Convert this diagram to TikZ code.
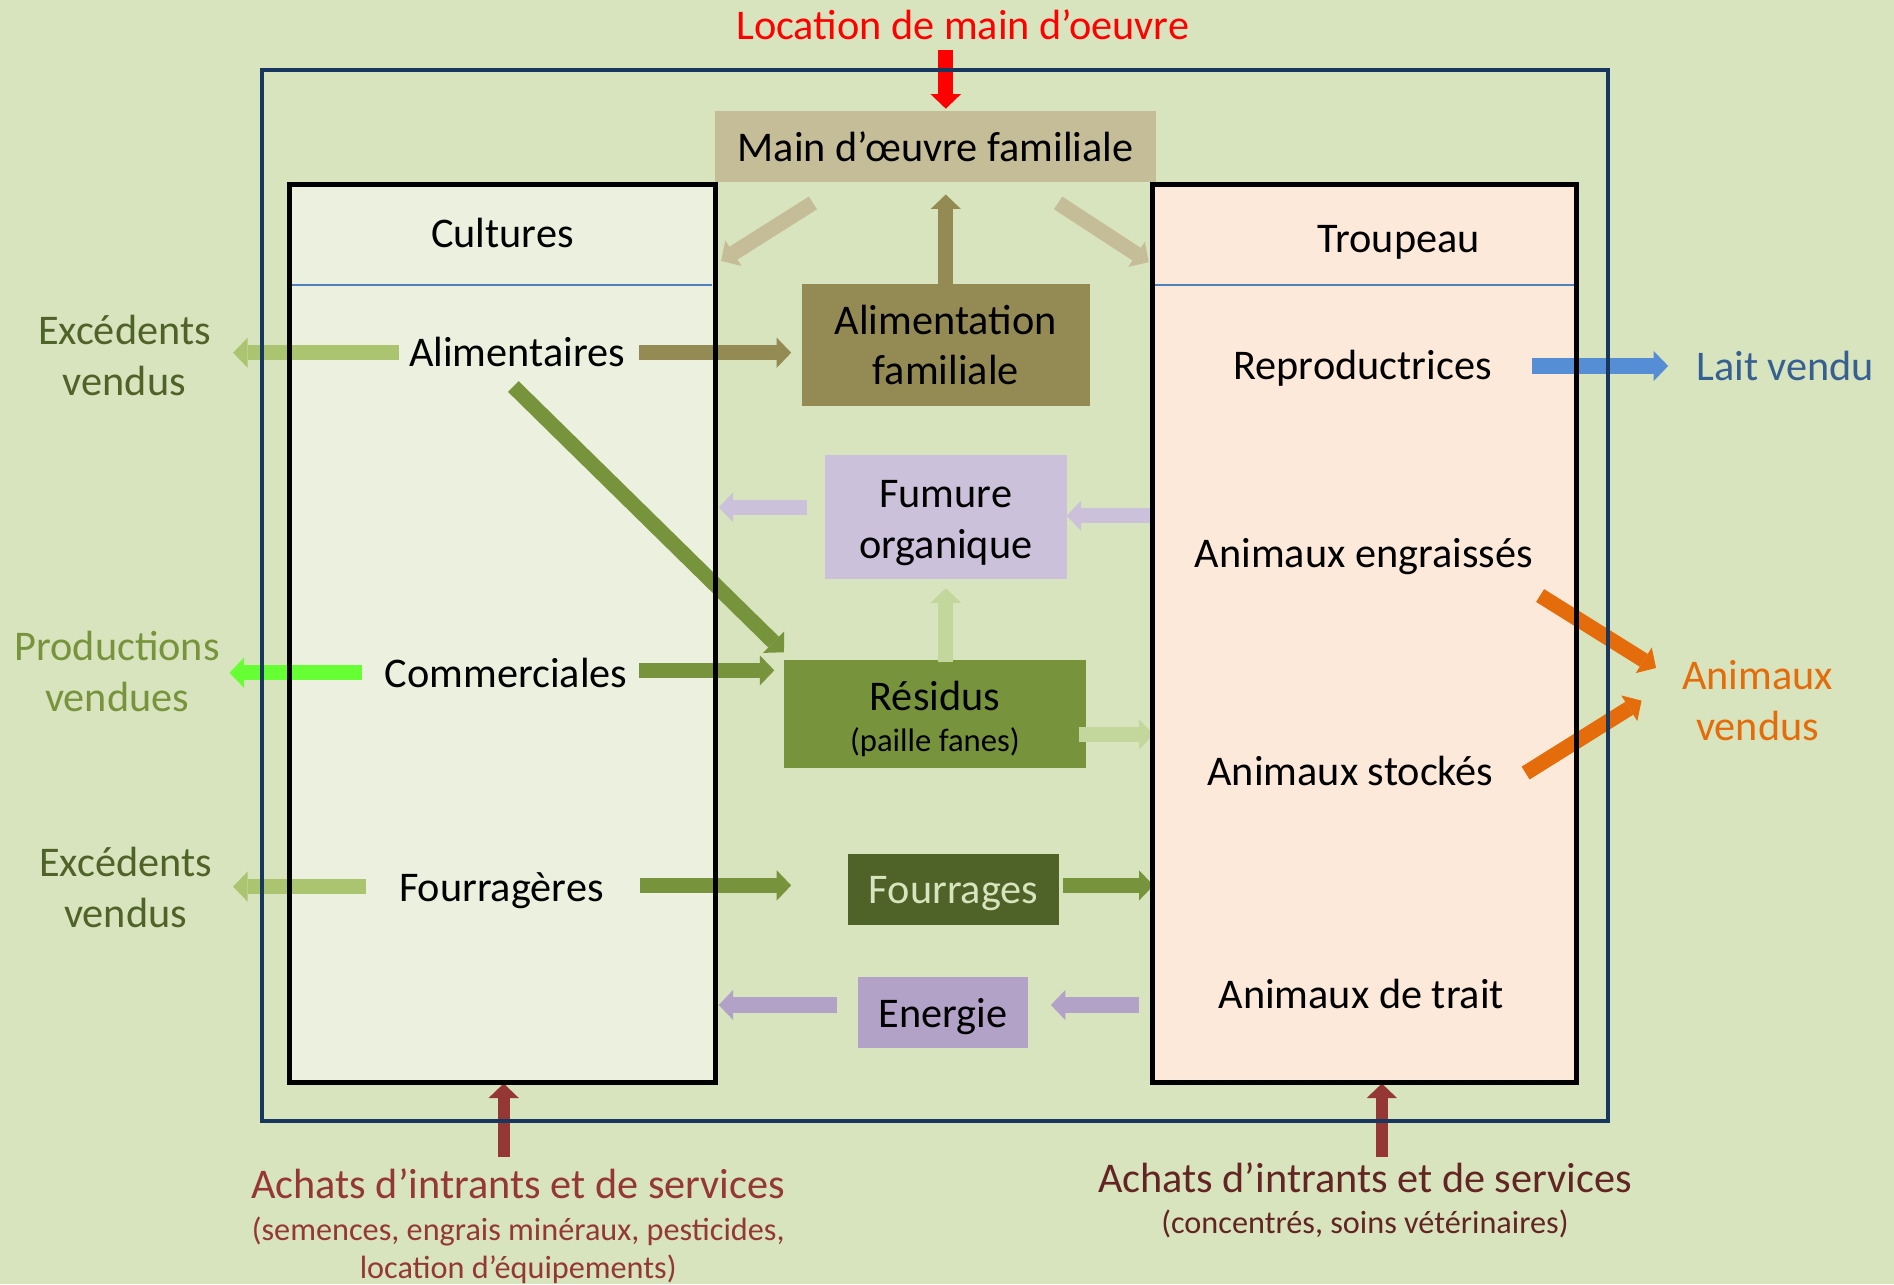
\documentclass[tikz,border=0pt]{standalone}
\usepackage{fontspec}
\setmainfont{Carlito}
\usetikzlibrary{arrows.meta}
\definecolor{bg}{HTML}{D7E4BD}
\definecolor{cultfill}{HTML}{EBF1DE}
\definecolor{troufill}{HTML}{FDE9D9}
\definecolor{navy}{HTML}{17375E}
\definecolor{sepblue}{HTML}{4F81BD}
\definecolor{beige}{HTML}{C4BD97}
\definecolor{olive}{HTML}{948A54}
\definecolor{lav}{HTML}{CCC1DA}
\definecolor{lavd}{HTML}{B3A2C7}
\definecolor{resid}{HTML}{77933C}
\definecolor{fourr}{HTML}{4F6228}
\definecolor{lgreen}{HTML}{C3D69B}
\definecolor{mgreen}{HTML}{AAC470}
\definecolor{bgreen}{HTML}{66FF33}
\definecolor{dgreen}{HTML}{4F6228}
\definecolor{lait}{HTML}{558ED5}
\definecolor{laittxt}{HTML}{376092}
\definecolor{orng}{HTML}{E46C0A}
\definecolor{achat}{HTML}{953735}
\definecolor{achatd}{HTML}{632523}
\definecolor{redc}{HTML}{FF0000}
\tikzset{
  big/.style={font=\fontsize{35}{42}\selectfont, inner sep=0pt, align=center},
  small/.style={font=\fontsize{26.7}{31}\selectfont, inner sep=0pt, align=center},
  blk/.style={line width=12.5pt, draw=#1, -{Triangle[length=12pt, width=25pt, line width=0pt]}},
  midbox/.style={rectangle, inner sep=0pt, align=center, font=\fontsize{35}{42}\selectfont},
  bigbox/.style={rectangle, inner sep=0pt, minimum height=743pt},
}
\begin{document}
\begin{tikzpicture}[x=1pt,y=-1pt]
\fill[bg] (0,0) rectangle (1568,1063);
\useasboundingbox (0,0) rectangle (1568,1063);

% big boxes (fill)
\node[bigbox, fill=cultfill, minimum width=352pt] (cult) at (416,524.5) {};
\node[bigbox, fill=troufill, minimum width=351pt] (trou) at (1129.5,524.5) {};
\draw[sepblue, line width=1.3pt] ([xshift=2pt]cult.north west) ++(0,83) coordinate (csepL) -- ++(348,0) coordinate (csepR);
\draw[sepblue, line width=1.3pt] ([xshift=2pt]trou.north west) ++(0,83) coordinate (tsepL) -- ++(347,0) coordinate (tsepR);

% middle boxes
\node[midbox, fill=beige, minimum width=365pt, minimum height=59pt] (mof) at (774.5,121.5) {Main d’œuvre familiale};
\node[midbox, fill=olive, minimum width=238pt, minimum height=101pt] (alf) at (783,285.5) {Alimentation\\familiale};
\node[midbox, fill=lav, minimum width=200pt, minimum height=102pt] (fum) at (783,428) {\rule{0pt}{33pt}Fumure\\organique};
\node[midbox, fill=resid, minimum width=250pt, minimum height=90pt] (res) at (774,591) {\rule{0pt}{33pt}Résidus\\[-8pt]{\fontsize{27}{31}\selectfont (paille fanes)}};
\node[midbox, fill=fourr, text=bg, text depth=0pt, minimum width=175pt, minimum height=59pt] (frg) at (789.5,736.5) {Fourrages};
\node[midbox, fill=lavd, text depth=0pt, minimum width=141pt, minimum height=59pt] (ene) at (780.5,838.5) {Energie};

% text in big boxes
\node[big, anchor=base] (tcult) at (416,205) {Cultures};
\node[big, anchor=base] (alim) at (428,303) {Alimentaires};
\node[big, anchor=base] (comm) at (419,569) {Commerciales};
\node[big, anchor=base] (fourg) at (415,746) {Fourragères};
\node[big, anchor=base] (ttrou) at (1158,209) {Troupeau};
\node[big, anchor=base] (repro) at (1128,314) {Reproductrices};
\node[big, anchor=base] (engr) at (1129,470) {Animaux engraissés};
\node[big, anchor=base] (stock) at (1118,650) {Animaux stockés};
\node[big, anchor=base] (trait) at (1127,835) {Animaux de trait};

% outside labels
\node[big, text=redc, anchor=base] (loc) at (797,33) {Location de main d’oeuvre};
\node[big, text=dgreen] (exc1) at (103,294) {Excédents\\vendus};
\node[big, text=resid] (prod) at (97,556) {Productions\\vendues};
\node[big, text=dgreen] (exc2) at (104,735) {Excédents\\vendus};
\node[big, text=laittxt, anchor=base] (lait) at (1478,315) {Lait vendu};
\node[big, text=orng] (anv) at (1455,580) {Animaux\\vendus};
\node[big, text=achat, anchor=base] (ach1) at (429,992) {Achats d’intrants et de services};
\node[small, text=achat] (ach1b) at (429,1035) {(semences, engrais minéraux, pesticides,\\location d’équipements)};
\node[big, text=achatd, anchor=base] (ach2) at (1130,987) {Achats d’intrants et de services};
\node[small, text=achatd, anchor=base] (ach2b) at (1130,1021) {(concentrés, soins vétérinaires)};

% arrow end points
\coordinate (r1) at (783,41);   \coordinate (r2) at (783,90);
\coordinate (bl1) at (673,168); \coordinate (bl2) at (597,216);
\coordinate (br1) at (876,168); \coordinate (br2) at (951,217);
\coordinate (ou1) at (783,235); \coordinate (ou2) at (783,161);
\coordinate (aa1) at (529,292); \coordinate (aa2) at (655,292);
\coordinate (al1) at (330,292); \coordinate (al2) at (193,292);
\coordinate (cl1) at (300,557); \coordinate (cl2) at (190,557);
\coordinate (fl1) at (303,734); \coordinate (fl2) at (193,734);
\coordinate (dg1) at (425,320); \coordinate (dg2) at (649,540);
\coordinate (cr1) at (529,555); \coordinate (cr2) at (641,555);
\coordinate (ff1) at (530,733); \coordinate (ff2) at (655,733);
\coordinate (ft1) at (880,733); \coordinate (ft2) at (955,733);
\coordinate (ru1) at (783,548); \coordinate (ru2) at (783,487);
\coordinate (rt1) at (893,608); \coordinate (rt2) at (955,608);
\coordinate (fc1) at (668,420); \coordinate (fc2) at (595,420);
\coordinate (tf1) at (955,427); \coordinate (tf2) at (883,427);
\coordinate (ec1) at (693,832); \coordinate (ec2) at (595,832);
\coordinate (te1) at (943,832); \coordinate (te2) at (870,832);
\coordinate (lv1) at (1268,303); \coordinate (lv2) at (1381,303);
\coordinate (oe1) at (1275,493); \coordinate (oe2) at (1371,553);
\coordinate (os1) at (1263,640); \coordinate (os2) at (1359,580);
\coordinate (bl3) at (417,958); \coordinate (bl4) at (417,897);
\coordinate (bb3) at (1144,958); \coordinate (bb4) at (1144,897);

% arrows
\draw[blk=redc] (r1) -- (r2);
\draw[blk=beige] (bl1) -- (bl2);
\draw[blk=beige] (br1) -- (br2);
\draw[blk=olive] (ou1) -- (ou2);
\draw[blk=olive] (aa1) -- (aa2);
\draw[blk=mgreen] (al1) -- (al2);
\draw[blk=bgreen] (cl1) -- (cl2);
\draw[blk=mgreen] (fl1) -- (fl2);
\draw[blk=resid] (dg1) -- (dg2);
\draw[blk=resid] (cr1) -- (cr2);
\draw[blk=resid] (ff1) -- (ff2);
\draw[blk=resid] (ft1) -- (ft2);
\draw[blk=lgreen] (ru1) -- (ru2);
\draw[blk=lgreen] (rt1) -- (rt2);
\draw[blk=lav] (fc1) -- (fc2);
\draw[blk=lav] (tf1) -- (tf2);
\draw[blk=lavd] (ec1) -- (ec2);
\draw[blk=lavd] (te1) -- (te2);
\draw[blk=lait] (lv1) -- (lv2);
\draw[blk=orng] (oe1) -- (oe2);
\draw[blk=orng] (os1) -- (os2);
\draw[blk=achat, line width=10pt] (bl3) -- (bl4);
\draw[blk=achat, line width=10pt] (bb3) -- (bb4);

% borders on top
\draw[black, line width=4pt] (cult.north west) rectangle (cult.south east);
\draw[black, line width=4pt] (trou.north west) rectangle (trou.south east);
\node[draw=navy, line width=3pt, minimum width=1114pt, minimum height=870pt, inner sep=0pt] (outer) at (774,493) {};
\end{tikzpicture}
\end{document}
